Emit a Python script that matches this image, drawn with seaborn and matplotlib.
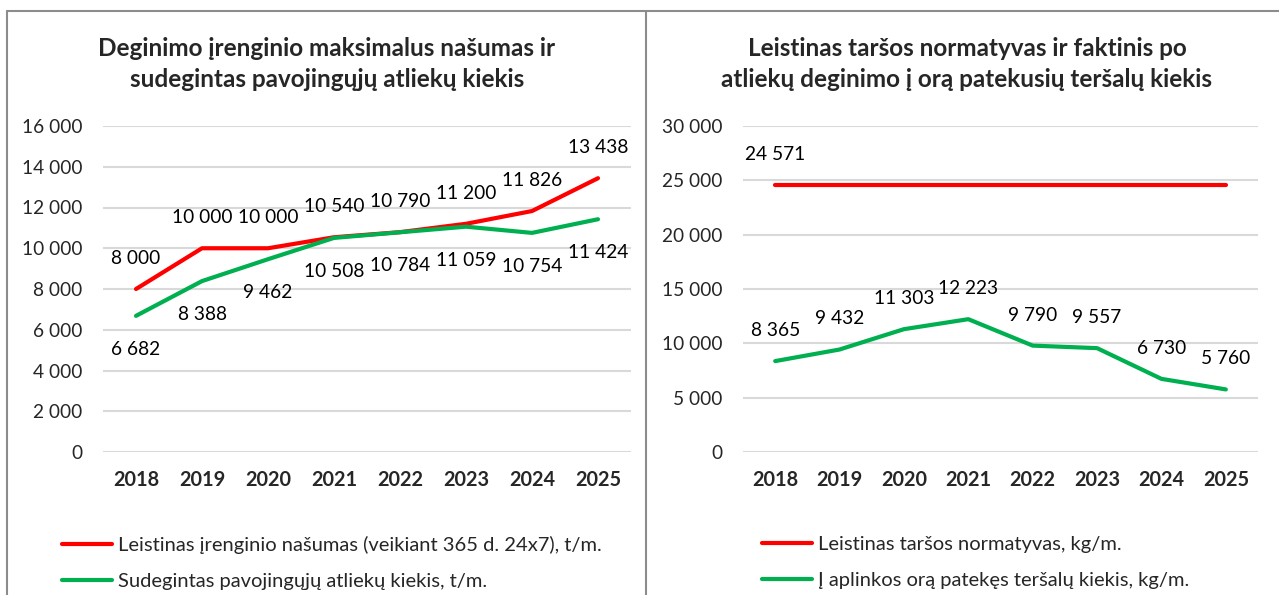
import pandas as pd
import matplotlib.pyplot as plt
import matplotlib.lines as mlines
import seaborn as sns

# data
years = ["2018", "2019", "2020", "2021", "2022", "2023", "2024", "2025"]

capacity = [8000, 10000, 10000, 10540, 10790, 11200, 11826, 13438]
burned = [6682, 8388, 9462, 10508, 10784, 11059, 10754, 11424]

norm = [24571, 24571, 24571, 24571, 24571, 24571, 24571, 24571]
emitted = [8365, 9432, 11303, 12223, 9790, 9557, 6730, 5760]

left_title = "Deginimo įrenginio maksimalus našumas ir\nsudegintas pavojingųjų atliekų kiekis"
right_title = "Leistinas taršos normatyvas ir faktinis po\natliekų deginimo į orą patekusių teršalų kiekis"

left_labels = ["Leistinas įrenginio našumas (veikiant 365 d. 24x7), t/m.",
               "Sudegintas pavojingųjų atliekų kiekis, t/m."]
right_labels = ["Leistinas taršos normatyvas, kg/m.",
                "Į aplinkos orą patekęs teršalų kiekis, kg/m."]

left_ticks = [0, 2000, 4000, 6000, 8000, 10000, 12000, 14000, 16000]
right_ticks = [0, 5000, 10000, 15000, 20000, 25000, 30000]

red = "#ff0000"
green = "#00b050"

sns.set_theme(style="white")
plt.rcParams["font.family"] = ["Lato", "DejaVu Sans"]

W, H = 1279, 595
fig = plt.figure(figsize=(W / 100, H / 100), dpi=100)

# panel borders
border = "#8c8c8c"
fig.add_artist(mlines.Line2D([6.5 / W, 6.5 / W], [0, 1 - 10.5 / H], transform=fig.transFigure, color=border, lw=1.5))
fig.add_artist(mlines.Line2D([646.5 / W, 646.5 / W], [0, 1 - 10.5 / H], transform=fig.transFigure, color=border, lw=1.5))
fig.add_artist(mlines.Line2D([6.5 / W, 1], [1 - 10.5 / H, 1 - 10.5 / H], transform=fig.transFigure, color=border, lw=1.5))

tick_fs = 13.8
label_fs = 13.8


def fmt(v):
    return f"{int(v):,}".replace(",", " ")


def draw_panel(ax, s1, s2, ticks, labels, title, tx, leg_x, red_all_labels):
    df = pd.DataFrame({"year": years * 2,
                       "value": s1 + s2,
                       "series": [labels[0]] * len(years) + [labels[1]] * len(years)})
    sns.lineplot(data=df, x="year", y="value", hue="series", palette=[red, green],
                 linewidth=3, ax=ax, legend=False, sort=False)
    ax.set_xlim(-0.5, len(years) - 0.5)
    ax.set_ylim(ticks[0], ticks[-1])
    ax.set_yticks(ticks)
    ax.set_yticklabels([fmt(t) for t in ticks], fontsize=tick_fs)
    ax.set_xticks(range(len(years)))
    ax.set_xticklabels(years, fontsize=14.3, fontweight="bold")
    ax.tick_params(axis="y", length=0, pad=15)
    ax.tick_params(axis="x", length=0, pad=13)
    ax.set_xlabel("")
    ax.set_ylabel("")
    ax.grid(axis="y", color="#d9d9d9", linewidth=1.5)
    ax.set_axisbelow(True)
    for sp in ax.spines.values():
        sp.set_visible(False)

    # data labels
    for i, v in enumerate(s1):
        if red_all_labels or i == 0:
            ax.annotate(fmt(v), (i, v), xytext=(0, 22), textcoords="offset points",
                        ha="center", va="center", fontsize=label_fs, color="#000000")
    for i, v in enumerate(s2):
        dy = -24 if red_all_labels else 22
        ax.annotate(fmt(v), (i, v), xytext=(0, dy), textcoords="offset points",
                    ha="center", va="center", fontsize=label_fs, color="#000000")

    fig.text(tx, 1 - 64 / H, title, ha="center", va="center", fontsize=17.5,
             fontweight="bold", linespacing=1.38)

    handles = [mlines.Line2D([], [], color=red, lw=3),
               mlines.Line2D([], [], color=green, lw=3)]
    fig.legend(handles, labels, loc="upper left", bbox_to_anchor=(leg_x, 1 - 536 / H),
               frameon=False, fontsize=14.5, handlelength=2.5, handletextpad=0.3,
               labelspacing=0.95, borderpad=0, borderaxespad=0)


ax1 = fig.add_axes([103 / W, 1 - 452 / H, 528 / W, 326 / H])
draw_panel(ax1, capacity, burned, left_ticks, left_labels, left_title, 327 / W, 62 / W, True)

ax2 = fig.add_axes([743 / W, 1 - 452 / H, 515 / W, 326 / H])
draw_panel(ax2, norm, emitted, right_ticks, right_labels, right_title, 967 / W, 762 / W, False)

fig.savefig("out.png", dpi=100)
